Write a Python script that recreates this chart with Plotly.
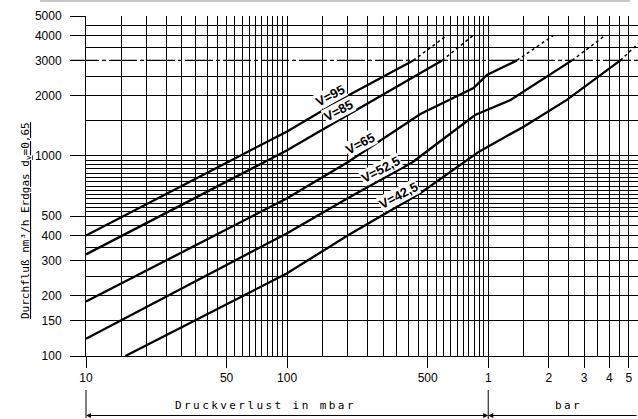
import numpy as np
import plotly.graph_objects as go

# Pressure drop (mbar) vs. natural gas flow (nm³/h) for the valve sizes V
v95_dp = [10, 100, 200, 424]
v95_q = [400, 1325, 2000, 3000]
v95_dp_ext = [424, 623]
v95_q_ext = [3000, 4000]

v85_dp = [10, 65, 100, 200, 590]
v85_q = [322, 850, 1066, 1600, 3000]
v85_dp_ext = [590, 842]
v85_q_ext = [3000, 4000]

v65_dp = [10, 100, 200, 460, 845, 985, 1390]
v65_q = [187, 614, 930, 1620, 2180, 2540, 3000]
v65_dp_ext = [1390, 2110]
v65_q_ext = [3000, 4000]

v52_dp = [10, 100, 200, 420, 860, 1290, 2610]
v52_q = [122, 411, 615, 930, 1600, 1900, 3000]
v52_dp_ext = [2610, 3820]
v52_q_ext = [3000, 4000]

v42_dp = [15.7, 100, 200, 459, 900, 1500, 2460, 4540]
v42_q = [100, 259, 400, 651, 1050, 1400, 1905, 3000]
v42_dp_ext = [4540, 5560]
v42_q_ext = [3000, 3640]

curve_names = ["V=95", "V=85", "V=65", "V=52,5", "V=42,5"]
label_dp = [164, 180, 231, 292, 358]

# axis ticks and grid
x_tickvals = [10, 50, 100, 500, 1000, 2000, 3000, 4000, 5000]
x_ticktext = ["10", "50", "100", "500", "1", "2", "3", "4", "5"]
y_tickvals = [100, 150, 200, 300, 400, 500, 1000, 2000, 3000, 4000, 5000]
y_ticktext = ["100", "150", "200", "300", "400", "500", "1000", "2000", "3000", "4000", "5000"]

x_grid = list(range(10, 100, 5)) + list(range(100, 1000, 50)) + list(range(1000, 5600, 500))
y_grid = (list(range(100, 500, 50))
          + [500, 525, 550, 580, 610, 640, 675, 705, 745, 780, 820, 860, 905, 950]
          + [q for q in range(1000, 5001, 500) if q != 3000])

X_MAX = 5556
x_range = [1, np.log10(X_MAX)]
y_range = [2, np.log10(5000)]

W, H = 638, 419
ML, MR, MT, MB = 86, 0, 16, 63
PW, PH = W - ML - MR, H - MT - MB


def px_to_paper_x(px):
    return (px - ML) / PW


def px_to_paper_y(py):
    return (H - MB - py) / PH


def val_to_paper_x(v):
    return (np.log10(v) - x_range[0]) / (x_range[1] - x_range[0])


def val_to_paper_y(v):
    return (np.log10(v) - y_range[0]) / (y_range[1] - y_range[0])


fig = go.Figure()

curves = [
    (v95_dp, v95_q, v95_dp_ext, v95_q_ext),
    (v85_dp, v85_q, v85_dp_ext, v85_q_ext),
    (v65_dp, v65_q, v65_dp_ext, v65_q_ext),
    (v52_dp, v52_q, v52_dp_ext, v52_q_ext),
    (v42_dp, v42_q, v42_dp_ext, v42_q_ext),
]

for name, (dp, q, dpe, qe) in zip(curve_names, curves):
    fig.add_trace(go.Scatter(x=dp, y=q, mode="lines", name=name,
                             line=dict(color="black", width=2.3)))
    fig.add_trace(go.Scatter(x=dpe, y=qe, mode="lines", showlegend=False,
                             line=dict(color="black", width=1.5, dash="dot")))

# curve labels, sitting just above each line
for name, (dp, q, _, _), xl in zip(curve_names, curves, label_dp):
    lx = np.log10(xl)
    ly = np.interp(lx, np.log10(dp), np.log10(q))
    fig.add_annotation(x=lx, y=ly, xref="x", yref="y", text=f"<b>{name}</b>", showarrow=False,
                       textangle=-28, yshift=10, bgcolor="white", borderpad=0,
                       font=dict(family="Liberation Sans, Arial", size=13, color="black"))

# dash-dot reference line at 3000 nm³/h
y3000 = val_to_paper_y(3000)
fig.add_shape(type="line", xref="paper", yref="paper", x0=-15 / PW, x1=1, y0=y3000, y1=y3000,
              line=dict(color="black", width=1.3, dash="28px,3px,4px,3px"), layer="below")

# thin rule along the top edge
fig.add_shape(type="line", xref="paper", yref="paper", x0=px_to_paper_x(40), x1=px_to_paper_x(630),
              y0=px_to_paper_y(1), y1=px_to_paper_y(1), line=dict(color="#b4b4b4", width=1.5))

# bracket below the axis: mbar range and bar range
x_bar = val_to_paper_x(1000)
y_arrow = px_to_paper_y(415.5)
fig.add_shape(type="line", xref="paper", yref="paper", x0=0, x1=0,
              y0=px_to_paper_y(390), y1=px_to_paper_y(418), line=dict(color="black", width=1))
fig.add_shape(type="line", xref="paper", yref="paper", x0=x_bar, x1=x_bar,
              y0=px_to_paper_y(390), y1=px_to_paper_y(419), line=dict(color="black", width=1))
bar_px = x_bar * PW
fig.add_annotation(x=0, y=y_arrow, xref="paper", yref="paper", text="", showarrow=True,
                   ax=bar_px, ay=0, arrowhead=2, arrowsize=1, arrowwidth=1, arrowcolor="black")
fig.add_annotation(x=x_bar, y=y_arrow, xref="paper", yref="paper", text="", showarrow=True,
                   ax=-bar_px, ay=0, arrowhead=2, arrowsize=1, arrowwidth=1, arrowcolor="black")
fig.add_annotation(x=x_bar, y=y_arrow, xref="paper", yref="paper", text="", showarrow=True,
                   ax=PW - bar_px + 2, ay=0, arrowhead=2, arrowsize=1, arrowwidth=1, arrowcolor="black")


def spaced(s):
    gap = '<span style="font-size:4px">\u00a0</span>'
    return gap.join(ch if ch != " " else "\u00a0" for ch in s)


mono = "DejaVu Sans Mono, Liberation Mono, monospace"
fig.add_annotation(x=px_to_paper_x(173), y=px_to_paper_y(414), xref="paper", yref="paper",
                   xanchor="left", text=spaced("Druckverlust in mbar"), showarrow=False,
                   font=dict(family=mono, size=11, color="black"))
fig.add_annotation(x=px_to_paper_x(553), y=px_to_paper_y(414), xref="paper", yref="paper",
                   xanchor="left", text=spaced("bar"), showarrow=False,
                   font=dict(family=mono, size=11, color="black"))

# vertical axis title
fig.add_annotation(x=px_to_paper_x(17), y=px_to_paper_y(221), xref="paper", yref="paper",
                   text="<u>Durchfluß nm³/h Erdgas d<sub>v</sub>=0,65</u>", showarrow=False,
                   textangle=-90, font=dict(family=mono, size=11, color="black"))

tick_font = dict(family="Liberation Sans, Arial", size=12, color="black")
grid_style = dict(showgrid=True, gridcolor="#000000", gridwidth=1.4, ticks="")

fig.update_layout(
    width=W, height=H,
    margin=dict(l=ML, r=MR, t=MT, b=MB),
    paper_bgcolor="white", plot_bgcolor="white",
    showlegend=False,
    xaxis=dict(type="log", range=x_range, tickmode="array", tickvals=x_tickvals,
               ticktext=x_ticktext, ticks="outside", ticklen=11, tickwidth=1,
               tickcolor="black", showgrid=False, zeroline=False, showline=True,
               linecolor="black", linewidth=1, tickfont=tick_font,
               minor=dict(tickvals=x_grid, **grid_style)),
    yaxis=dict(type="log", range=y_range, tickmode="array", tickvals=y_tickvals,
               ticktext=y_ticktext, ticks="outside", ticklen=15, tickwidth=1,
               tickcolor="black", showgrid=False, zeroline=False, showline=True,
               linecolor="black", linewidth=1, tickfont=tick_font, ticklabelstandoff=6,
               minor=dict(tickvals=y_grid, **grid_style)),
)

fig.write_html("out.html")
